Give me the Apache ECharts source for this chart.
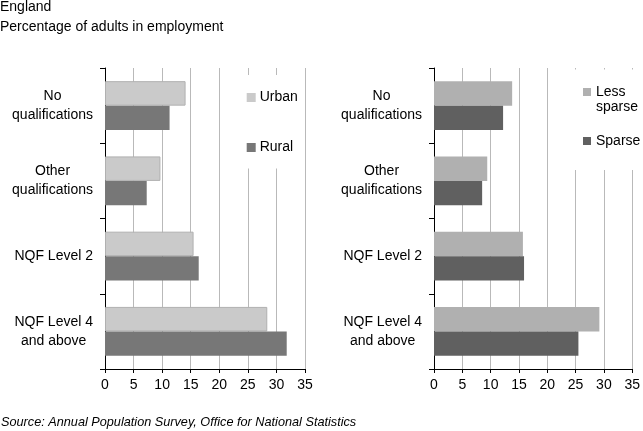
<!DOCTYPE html>
<html>
<head>
<meta charset="utf-8">
<script src="https://cdn.jsdelivr.net/npm/echarts@6/dist/echarts.min.js"></script>
<style>html,body{margin:0;padding:0;background:#fff;}#c{width:643px;height:431px;}</style>
</head>
<body>
<div id="c"></div>
<script>
var categories = ['No qualifications', 'Other qualifications', 'NQF Level 2', 'NQF Level 4 and above'];
var categoryLines = [['No', 'qualifications'], ['Other', 'qualifications'], ['NQF Level 2'], ['NQF Level 4', 'and above']];
var urban = [14.1, 9.7, 15.5, 28.4];
var rural = [11.3, 7.3, 16.4, 31.8];
var lessSparse = [13.8, 9.4, 15.7, 29.2];
var sparse = [12.2, 8.5, 15.9, 25.5];
var xTicks = [0, 5, 10, 15, 20, 25, 30, 35];

var FONT = '"Liberation Sans", Arial, sans-serif';
var FS = 14;
var chart = echarts.init(document.getElementById('c'), null, {renderer: 'canvas'});

function yAxis(gi) {
  return {
    type: 'category', gridIndex: gi, data: categories, inverse: true,
    axisLine: {show: true, lineStyle: {color: '#000', width: 1}},
    axisTick: {show: true, length: 5, lineStyle: {color: '#000'}},
    axisLabel: {
      margin: 12, align: 'right', fontFamily: FONT, fontSize: FS, color: '#000',
      formatter: function (v) {
        var i = categories.indexOf(v);
        return categoryLines[i].map(function (l) { return '{c|' + l + '}'; }).join('\n');
      },
      rich: {c: {align: 'center', fontFamily: FONT, fontSize: FS, color: '#000', lineHeight: 19}}
    },
    splitLine: {show: false}
  };
}
function xAxis(gi) {
  return {
    type: 'value', gridIndex: gi, min: xTicks[0], max: xTicks[xTicks.length - 1], interval: 5,
    axisLine: {show: true, lineStyle: {color: '#000', width: 1}},
    axisTick: {show: true, length: 4, lineStyle: {color: '#000'}},
    axisLabel: {margin: 9, fontFamily: FONT, fontSize: FS, color: '#000'},
    splitLine: {show: true, lineStyle: {color: '#b9b9b9', width: 1}}
  };
}

var option = {
  backgroundColor: '#fff',
  animation: false,
  title: [
    {text: 'England', left: 0, top: 0, padding: 0, textStyle: {fontFamily: FONT, fontSize: FS, fontWeight: 'normal', color: '#000'}},
    {text: 'Percentage of adults in employment', left: 0, top: 20, padding: 0, textStyle: {fontFamily: FONT, fontSize: FS, fontWeight: 'normal', color: '#000'}},
    {text: 'Source: Annual Population Survey, Office for National Statistics', left: 1, top: 416, padding: 0, textStyle: {fontFamily: FONT, fontSize: 12.7, fontWeight: 'normal', fontStyle: 'italic', color: '#000'}}
  ],
  grid: [
    {left: 105, top: 68, width: 200, height: 301, containLabel: false},
    {left: 434, top: 68, width: 200, height: 301, containLabel: false}
  ],
  xAxis: [xAxis(0), xAxis(1)],
  yAxis: [yAxis(0), yAxis(1)],
  legend: [
    {
      data: ['Urban', 'Rural'], orient: 'vertical', left: 240, top: 75,
      padding: [14.5, 4, 13, 6.7], itemGap: 34, itemWidth: 9, itemHeight: 9,
      backgroundColor: '#fff', icon: 'rect', selectedMode: false,
      itemStyle: {borderWidth: 0},
      textStyle: {fontFamily: FONT, fontSize: FS, color: '#000', lineHeight: 16, padding: [0, 0, 0, -1]}
    },
    {
      data: ['Less sparse', 'Sparse'],
      orient: 'vertical', left: 574, top: 69.5,
      padding: [0, 4, 21.5, 9], itemGap: 19, itemWidth: 8, itemHeight: 8,
      backgroundColor: '#fff', icon: 'rect', selectedMode: false,
      itemStyle: {borderWidth: 0},
      formatter: function (n) {
        return n === 'Less sparse' ? '{s| }\n{a|Less}\n{a|sparse}' : '{a|' + n + '}';
      },
      textStyle: {
        fontFamily: FONT, fontSize: FS, color: '#000', lineHeight: 15,
        rich: {
          s: {fontFamily: FONT, fontSize: FS, lineHeight: 15, color: '#000'},
          a: {fontFamily: FONT, fontSize: FS, lineHeight: 15, color: '#000'}
        }
      }
    }
  ],
  series: [
    {name: 'Urban', type: 'bar', xAxisIndex: 0, yAxisIndex: 0, data: urban, barGap: '0%', barCategoryGap: '35%',
     itemStyle: {color: '#cacaca', borderColor: '#b0b0b0', borderWidth: 1}},
    {name: 'Rural', type: 'bar', xAxisIndex: 0, yAxisIndex: 0, data: rural, barGap: '0%', barCategoryGap: '35%',
     itemStyle: {color: '#777777'}},
    {name: 'Less sparse', type: 'bar', xAxisIndex: 1, yAxisIndex: 1, data: lessSparse, barGap: '0%', barCategoryGap: '35%',
     itemStyle: {color: '#b0b0b0'}},
    {name: 'Sparse', type: 'bar', xAxisIndex: 1, yAxisIndex: 1, data: sparse, barGap: '0%', barCategoryGap: '35%',
     itemStyle: {color: '#606060'}}
  ]
};
chart.setOption(option);
</script>
</body>
</html>
